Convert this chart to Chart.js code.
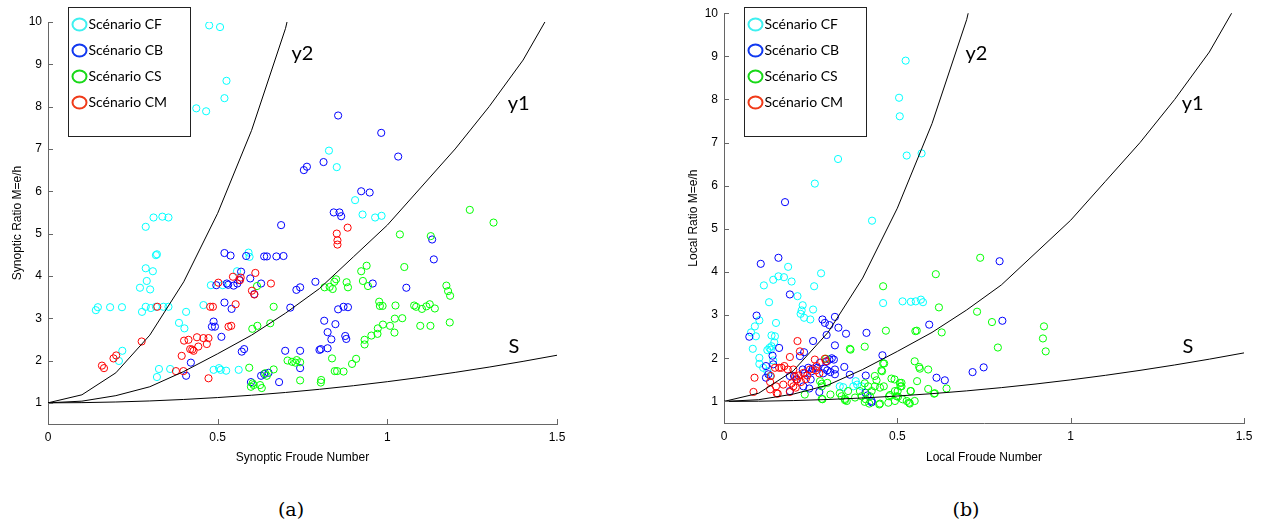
<!DOCTYPE html>
<html>
<head>
<meta charset="utf-8">
<script src="https://cdn.jsdelivr.net/npm/chart.js@4.4.0/dist/chart.umd.min.js"></script>
<style>
  body { margin: 0; background: #fff; width: 1270px; height: 525px; position: relative; overflow: hidden; }
  canvas { position: absolute; top: 0; }
  #leftChart { left: 0; }
  #rightChart { left: 676px; }
  .cap { position: absolute; top: 498px; width: 60px; text-align: center; font-family: "DejaVu Serif", "Liberation Serif", serif; font-size: 19px; }
</style>
</head>
<body>
<canvas id="leftChart" width="640" height="480"></canvas>
<canvas id="rightChart" width="594" height="480"></canvas>
<div class="cap" style="left:261px">(a)</div>
<div class="cap" style="left:936px">(b)</div>
<script>
// reference curves, sampled every 0.1 in Froude number
const curveF = [0, 0.1, 0.2, 0.3, 0.4, 0.5, 0.6, 0.7, 0.8, 0.9, 1.0, 1.1, 1.2, 1.3, 1.4, 1.5];
const curveS = [1, 1.005, 1.02, 1.045, 1.08, 1.125, 1.18, 1.245, 1.32, 1.405, 1.5, 1.605, 1.72, 1.845, 1.98, 2.125];
const curveY1 = [1, 1.04, 1.17, 1.38, 1.74, 2.16, 2.6, 3.12, 3.7, 4.45, 5.2, 6.1, 7.0, 8.0, 9.1, 10.5];
const curveY2 = [1, 1.19, 1.71, 2.6, 3.86, 5.48, 7.44, 9.85, 13.3];

const xTicks = [0, 0.5, 1, 1.5];
const yTicks = [1, 2, 3, 4, 5, 6, 7, 8, 9, 10];

const scenarioNames = ["Scénario CF", "Scénario CB", "Scénario CS", "Scénario CM"];
const markerColors = ["#00ffff", "#0000ff", "#00ff00", "#ff0000"];
const legendColors = ["#3ef0f0", "#1038f0", "#18d818", "#f03a18"];

// (a) synoptic
const leftCF = [[0.475,9.92],[0.507,9.88],[0.526,8.61],[0.52,8.2],[0.437,7.96],[0.466,7.89],[0.311,5.38],[0.337,5.4],[0.355,5.38],[0.288,5.16],
  [0.141,3.19],[0.147,3.26],[0.183,3.26],[0.218,3.26],[0.277,3.15],[0.288,3.27],[0.303,3.24],[0.318,3.27],[0.34,3.27],[0.355,3.27],
  [0.271,3.72],[0.301,3.68],[0.288,4.18],[0.309,4.11],[0.291,3.88],[0.318,4.49],[0.321,4.51],[0.386,2.89],[0.402,2.76],[0.407,3.15],
  [0.219,2.23],[0.209,1.99],[0.321,1.61],[0.327,1.8],[0.36,1.8],[0.458,3.31],[0.48,3.78],[0.515,3.78],[0.488,1.78],[0.504,1.82],
  [0.509,1.78],[0.525,1.76],[0.562,1.78],[0.557,4.11],[0.591,4.55],[0.594,4.45],
  [0.828,6.96],[0.851,6.57],[0.905,5.79],[0.927,5.45],[0.964,5.38],[0.983,5.42]];
const leftCB = [[0.855,7.79],[0.982,7.38],[1.032,6.82],[0.754,6.5],[0.763,6.58],[0.812,6.69],[0.923,6.0],[0.948,5.97],[0.842,5.5],[0.859,5.5],[0.864,5.41],[0.687,5.2],
  [1.132,4.86],[1.137,4.39],[0.957,3.82],[1.056,3.72],[0.855,3.21],[0.871,3.27],[0.884,3.26],[0.814,2.94],[0.847,2.86],[0.824,2.67],[0.835,2.5],[0.876,2.58],[0.879,2.51],[0.804,2.27],[0.824,2.29],
  [0.788,3.86],[0.743,3.73],[0.732,3.67],[0.743,2.23],[0.699,2.23],[0.743,1.82],[0.714,3.25],
  [0.52,4.54],[0.538,4.48],[0.584,4.47],[0.637,4.46],[0.645,4.46],[0.673,4.46],[0.694,4.47],
  [0.496,3.78],[0.527,3.82],[0.547,3.77],[0.558,3.82],[0.564,3.9],[0.569,4.1],[0.596,3.94],[0.628,3.82],[0.608,3.57],[0.531,3.79],
  [0.52,3.37],[0.541,3.22],[0.488,2.92],[0.483,2.8],[0.492,2.8],[0.511,2.56],[0.421,1.95],[0.407,1.64],[0.578,2.27],[0.571,2.21],
  [0.598,1.49],[0.628,1.64],[0.637,1.68],[0.65,1.71],[0.681,1.49],[0.8,2.25]];
const leftCS = [[1.243,5.56],[1.313,5.26],[1.037,4.98],[1.128,4.94],[1.05,4.21],[0.923,4.11],[0.939,4.24],[0.928,3.88],[0.943,3.76],[0.88,3.85],[0.884,3.73],[0.849,3.92],[0.83,3.74],[0.815,3.73],[0.839,3.69],[0.844,3.86],
  [1.174,3.77],[1.179,3.64],[1.185,3.53],[0.976,3.39],[0.978,3.29],[0.986,3.29],[1.024,3.3],[1.079,3.3],[1.085,3.27],[1.102,3.22],[1.115,3.28],[1.125,3.33],[1.14,3.23],
  [1.044,3.0],[1.022,2.99],[1.008,2.82],[0.987,2.85],[0.972,2.76],[0.971,2.63],[0.953,2.59],[1.021,2.66],[1.097,2.82],[1.127,2.82],[1.184,2.9],
  [0.933,2.49],[0.933,2.38],[0.908,2.04],[0.896,1.92],[0.837,2.05],[0.845,1.75],[0.852,1.75],[0.871,1.74],[0.805,1.54],[0.804,1.48],[0.743,1.96],[0.743,1.53],
  [0.665,3.27],[0.616,3.76],[0.617,2.82],[0.602,2.75],[0.655,2.88],
  [0.706,2.0],[0.719,1.97],[0.733,2.01],[0.729,1.95],[0.593,1.83],[0.665,1.79],
  [0.598,1.38],[0.606,1.42],[0.625,1.42],[0.63,1.35],[0.603,1.46],[0.64,1.7],[0.645,1.64]];
const leftCM = [[0.159,1.88],[0.165,1.82],[0.193,2.05],[0.201,2.12],[0.276,2.45],[0.322,3.27],[0.377,1.75],[0.399,1.75],[0.394,2.11],[0.401,2.47],
  [0.414,2.49],[0.419,2.27],[0.429,2.23],[0.439,2.55],[0.443,2.33],[0.458,2.53],[0.468,2.39],[0.473,2.53],[0.473,1.58],[0.478,3.27],
  [0.486,3.27],[0.502,3.84],[0.545,3.98],[0.553,3.33],[0.532,2.8],[0.54,2.82],[0.566,3.9],[0.568,3.96],[0.601,3.65],[0.608,3.56],
  [0.611,4.07],[0.657,3.82],[0.851,5.0],[0.853,4.84],[0.853,4.74],[0.883,5.14],[0.425,2.26]];

// (b) local
const rightCF = [[0.352,9.5],[0.304,9.02],[0.524,8.9],[0.505,8.04],[0.507,7.61],[0.341,7.58],[0.329,6.62],[0.527,6.7],[0.57,6.75],[0.262,6.05],[0.427,5.19],
  [0.28,3.97],[0.26,3.67],[0.257,3.13],[0.185,4.12],[0.195,3.78],[0.157,3.9],[0.173,3.88],[0.142,3.82],[0.115,3.69],[0.13,3.3],[0.212,3.44],[0.227,3.23],[0.224,3.11],[0.221,3.03],[0.231,2.94],[0.249,2.9],
  [0.15,2.82],[0.102,2.88],[0.089,2.74],[0.078,2.6],[0.092,2.51],[0.083,2.22],[0.137,2.53],[0.147,2.51],[0.145,2.37],[0.137,2.28],[0.131,2.24],[0.125,2.19],[0.135,2.2],[0.102,2.01],[0.102,1.87],[0.113,1.78],[0.125,1.7],[0.133,1.59],[0.142,1.95],
  [0.459,3.28],[0.515,3.32],[0.539,3.31],[0.553,3.32],[0.568,3.36],[0.574,3.3],
  [0.334,1.35],[0.344,1.33],[0.38,1.47],[0.384,1.39],[0.373,1.35],[0.397,1.35]];
const rightCB = [[0.176,5.62],[0.106,4.19],[0.157,4.33],[0.19,3.48],[0.094,2.99],[0.073,2.5],[0.159,2.24],[0.14,2.06],[0.121,1.82],
  [0.257,2.4],[0.284,2.9],[0.291,2.82],[0.304,2.77],[0.32,2.96],[0.33,2.71],[0.352,2.57],[0.296,2.54],[0.32,2.3],[0.411,2.59],[0.409,1.6],[0.363,1.62],[0.457,2.07],
  [0.592,2.78],[0.613,1.55],[0.637,1.49],[0.717,1.68],[0.749,1.79],[0.795,4.25],[0.803,2.87],
  [0.347,1.8],[0.311,2.0],[0.304,1.97],[0.277,1.9],[0.269,1.78],[0.291,1.76],[0.298,1.72],[0.32,1.63],[0.256,1.76],[0.243,1.78],[0.231,2.14],[0.219,2.05],
  [0.19,1.59],[0.202,1.59],[0.209,1.51],[0.25,1.51],[0.229,1.35],[0.246,1.3],[0.19,1.24],[0.275,1.22],[0.142,1.86],[0.121,1.55],[0.128,1.63],
  [0.426,1.01],[0.408,1.2],[0.414,1.14],[0.426,0.98],[0.297,1.93],[0.317,1.97],[0.32,1.74],[0.307,1.68],[0.286,1.65],[0.227,1.74],[0.233,1.65],[0.253,1.7]];
const rightCS = [[0.739,4.33],[0.611,3.95],[0.62,3.18],[0.73,3.08],[0.773,2.84],[0.628,2.6],[0.552,2.63],[0.556,2.64],[0.79,2.25],[0.923,2.74],[0.92,2.46],[0.928,2.16],
  [0.55,1.93],[0.563,1.8],[0.565,1.76],[0.589,1.74],[0.557,1.47],[0.539,1.24],[0.589,1.29],[0.606,1.18],[0.642,1.3],[0.55,1.01],[0.534,0.97],[0.527,1.01],[0.515,1.05],[0.512,1.43],[0.512,1.35],
  [0.459,3.67],[0.467,2.64],[0.406,2.27],[0.459,1.88],[0.454,1.72],[0.483,1.53],[0.492,1.51],[0.507,1.43],[0.461,1.35],[0.44,1.49],[0.538,1.24],[0.608,1.19],[0.479,1.15],[0.502,1.11],
  [0.45,0.95],[0.474,0.97],[0.406,0.99],[0.419,0.95],
  [0.363,2.22],[0.294,1.99],[0.277,1.47],[0.282,1.41],[0.298,1.43],[0.233,1.16],[0.282,1.06],[0.307,1.16],[0.334,1.19],[0.358,1.24],[0.339,1.12],[0.349,1.06],
  [0.354,1.01],[0.378,1.09],[0.392,1.24],[0.397,1.12],[0.409,1.05],[0.421,1.12],[0.426,1.24],[0.435,1.35],[0.45,1.32],[0.448,0.93],[0.493,1.01],[0.498,1.12],
  [0.501,1.24],[0.435,1.59],[0.462,1.88],[0.406,1.42],[0.416,1.35],[0.282,1.35],[0.284,1.05],[0.365,2.2],[0.456,1.7],[0.476,1.12],[0.493,1.24],[0.509,1.35],[0.536,0.95],[0.349,1.03]];
const rightCM = [[0.212,2.4],[0.219,2.16],[0.19,2.03],[0.262,1.97],[0.291,1.99],[0.294,1.93],[0.147,1.78],[0.166,1.78],[0.174,1.82],[0.267,1.82],[0.265,1.72],[0.248,1.74],
  [0.088,1.55],[0.085,1.22],[0.135,1.59],[0.133,1.28],[0.155,1.18],[0.15,1.35],[0.171,1.39],[0.2,1.74],[0.205,1.57],[0.211,1.51],[0.195,1.42],[0.2,1.35],
  [0.207,1.32],[0.19,1.22],[0.229,1.66],[0.236,1.52],[0.159,1.78],[0.184,1.74],[0.133,1.45],[0.152,1.19],[0.215,1.6],[0.222,1.45],[0.24,1.6],[0.275,1.65]];

const leftCurveLabels = [["y2", 0.75, 9.25], ["y1", 1.387, 8.07], ["S", 1.373, 2.33]];
const rightCurveLabels = [["y2", 0.728, 9.07], ["y1", 1.352, 7.91], ["S", 1.338, 2.27]];

const panelDecor = {
  id: "panelDecor",
  afterDraw(chart, args, opts) {
    const { ctx, chartArea: a, scales: { x, y } } = chart;
    ctx.save();
    ctx.strokeStyle = "#666";
    ctx.lineWidth = 1;
    ctx.beginPath();
    xTicks.forEach((v) => {
      const px = Math.round(x.getPixelForValue(v)) + 0.5;
      ctx.moveTo(px, a.bottom);
      ctx.lineTo(px, a.bottom - 5);
    });
    yTicks.forEach((v) => {
      const py = Math.round(y.getPixelForValue(v)) + 0.5;
      ctx.moveTo(a.left, py);
      ctx.lineTo(a.left + 5, py);
    });
    ctx.stroke();

    ctx.fillStyle = "#000";
    ctx.font = "20px Lato";
    ctx.textAlign = "center";
    ctx.textBaseline = "middle";
    opts.labels.forEach(([t, fx, fy]) => ctx.fillText(t, x.getPixelForValue(fx), y.getPixelForValue(fy)));

    // legend box
    const bx = a.left + 20.5, by = 7.5;
    ctx.fillStyle = "#fff";
    ctx.fillRect(bx, by, 122, 129);
    ctx.strokeStyle = "#222";
    ctx.strokeRect(bx, by, 122, 129);
    ctx.textAlign = "left";
    ctx.font = "14px Lato";
    scenarioNames.forEach((name, i) => {
      const cy = by + 17 + i * 26;
      ctx.strokeStyle = legendColors[i];
      ctx.lineWidth = 2;
      ctx.beginPath();
      ctx.ellipse(bx + 11, cy, 7, 6, 0, 0, Math.PI * 2);
      ctx.stroke();
      ctx.fillStyle = "#000";
      ctx.fillText(name, bx + 20, cy);
    });
    ctx.restore();
  },
};

Chart.defaults.font.family = '"Liberation Sans", Arial, sans-serif';
Chart.defaults.font.size = 12;
Chart.defaults.color = "#000";

function makePanel(id, groups, labels, xTitle, yTitle, pad, bottomH) {
  const pts = groups.map((arr, i) => ({
    label: scenarioNames[i],
    data: arr.map(([fx, fy]) => ({ x: fx, y: fy })),
    borderColor: markerColors[i],
    backgroundColor: "transparent",
    pointRadius: 3.6,
    pointBorderWidth: 1,
    showLine: false,
    order: 4 - i,
  }));
  const curve = (vals, name) => ({
    label: name,
    data: vals.map((v, i) => ({ x: curveF[i], y: v })),
    showLine: true,
    borderColor: "#000",
    borderWidth: 1,
    pointRadius: 0,
    tension: 0,
    order: 0,
  });
  const axis = (ticks) => ({
    type: "linear",
    afterBuildTicks: (s) => { s.ticks = ticks.map((v) => ({ value: v })); },
    grid: { display: false, drawTicks: false },
    border: { display: true, color: "#666", width: 1 },
  });
  return new Chart(document.getElementById(id), {
    type: "scatter",
    data: { datasets: [...pts, curve(curveS, "S"), curve(curveY1, "y1"), curve(curveY2, "y2")] },
    options: {
      responsive: false,
      animation: false,
      layout: { padding: { top: pad.top, right: pad.right, left: 0, bottom: 0 } },
      plugins: { legend: { display: false }, tooltip: { enabled: false }, panelDecor: { labels } },
      scales: {
        x: {
          ...axis(xTicks),
          min: 0, max: 1.5,
          ticks: { padding: 6, callback: (v) => String(v) },
          title: { display: true, text: xTitle, padding: { top: 0, bottom: 15 } },
          afterFit: (s) => { s.height = bottomH; },
        },
        y: {
          ...axis(yTicks),
          min: 0.5, max: 10,
          ticks: { padding: 6 },
          title: { display: true, text: yTitle, padding: { top: 10, bottom: 0 } },
          afterFit: (s) => { s.width = 48; },
        },
      },
    },
    plugins: [panelDecor],
  });
}

makePanel("leftChart", [leftCF, leftCB, leftCS, leftCM], leftCurveLabels,
  "Synoptic Froude Number", "Synoptic Ratio M=e/h", { top: 22, right: 83 }, 56);
makePanel("rightChart", [rightCF, rightCB, rightCS, rightCM], rightCurveLabels,
  "Local Froude Number", "Local Ratio M=e/h", { top: 13, right: 26 }, 57);
</script>
</body>
</html>
